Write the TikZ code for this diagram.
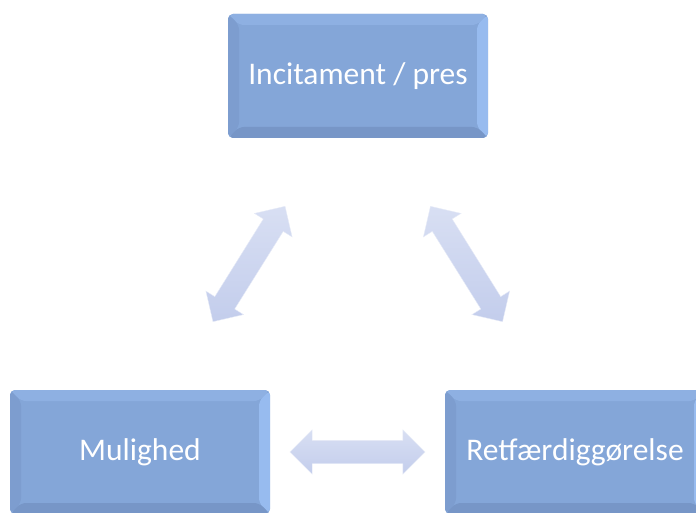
\documentclass[tikz,border=0pt]{standalone}
\usepackage{fontspec}
\setmainfont{Carlito}
\usetikzlibrary{shapes.arrows, positioning, calc}

\definecolor{boxFace}{HTML}{84A6D8}
\definecolor{boxTop}{HTML}{8EB0E2}
\definecolor{boxLeft}{HTML}{7D9DCF}
\definecolor{boxRight}{HTML}{97BBEF}
\definecolor{boxBottom}{HTML}{7796C7}
\definecolor{arrowHi}{HTML}{D8DFF3}
\definecolor{arrowLo}{HTML}{C3CDEC}

\tikzset{
  bevelbox/.style={rectangle, rounded corners=5pt, minimum width=260pt, minimum height=124pt,
    fill=boxFace, text=white, font=\fontsize{31.5}{36}\selectfont,
    path picture={
      \def\bw{11pt}
      % top, left, right and bottom bevel faces
      \fill[boxTop] (path picture bounding box.north west) -- (path picture bounding box.north east)
        -- ++(-\bw,-\bw) -- ($(path picture bounding box.north west)+(\bw,-\bw)$) -- cycle;
      \fill[boxLeft] (path picture bounding box.north west) -- (path picture bounding box.south west)
        -- ++(\bw,\bw) -- ($(path picture bounding box.north west)+(\bw,-\bw)$) -- cycle;
      \fill[boxRight] (path picture bounding box.north east) -- (path picture bounding box.south east)
        -- ++(-\bw,\bw) -- ($(path picture bounding box.north east)+(-\bw,-\bw)$) -- cycle;
      \fill[boxBottom] (path picture bounding box.south west) -- (path picture bounding box.south east)
        -- ++(-\bw,\bw) -- ($(path picture bounding box.south west)+(\bw,\bw)$) -- cycle;
    }},
  twoway/.style={double arrow, draw=white!60!arrowLo, thin, top color=arrowHi, bottom color=arrowLo,
    inner xsep=0pt, inner ysep=11.5pt, minimum height=136pt,
    double arrow head extend=10.5pt, double arrow tip angle=90}
}

\begin{document}
\begin{tikzpicture}[x=1pt, y=1pt]

  % --- Canvas ---
  \useasboundingbox (0,0) rectangle (696,512);
  \clip (0,0) rectangle (696,512);

  % --- The three boxes ---
  \node[bevelbox] (incitament) at (358,436) {Incitament / pres};
  \node[bevelbox] (mulighed) at (140,60) {Mulighed};
  \node[bevelbox] (retf) at (575,60) {Retfærdiggørelse};

  % --- Double arrows between the boxes ---
  \node[twoway, rotate=58] (pilIM) at ($(incitament)!0.5!(mulighed)$) {};
  \node[twoway, rotate=-58] (pilIR) at ($(incitament)!0.5!(retf)$) {};
  \node[twoway, minimum height=135pt] (pilMR) at ($(mulighed)!0.5!(retf)$) {};

\end{tikzpicture}
\end{document}
